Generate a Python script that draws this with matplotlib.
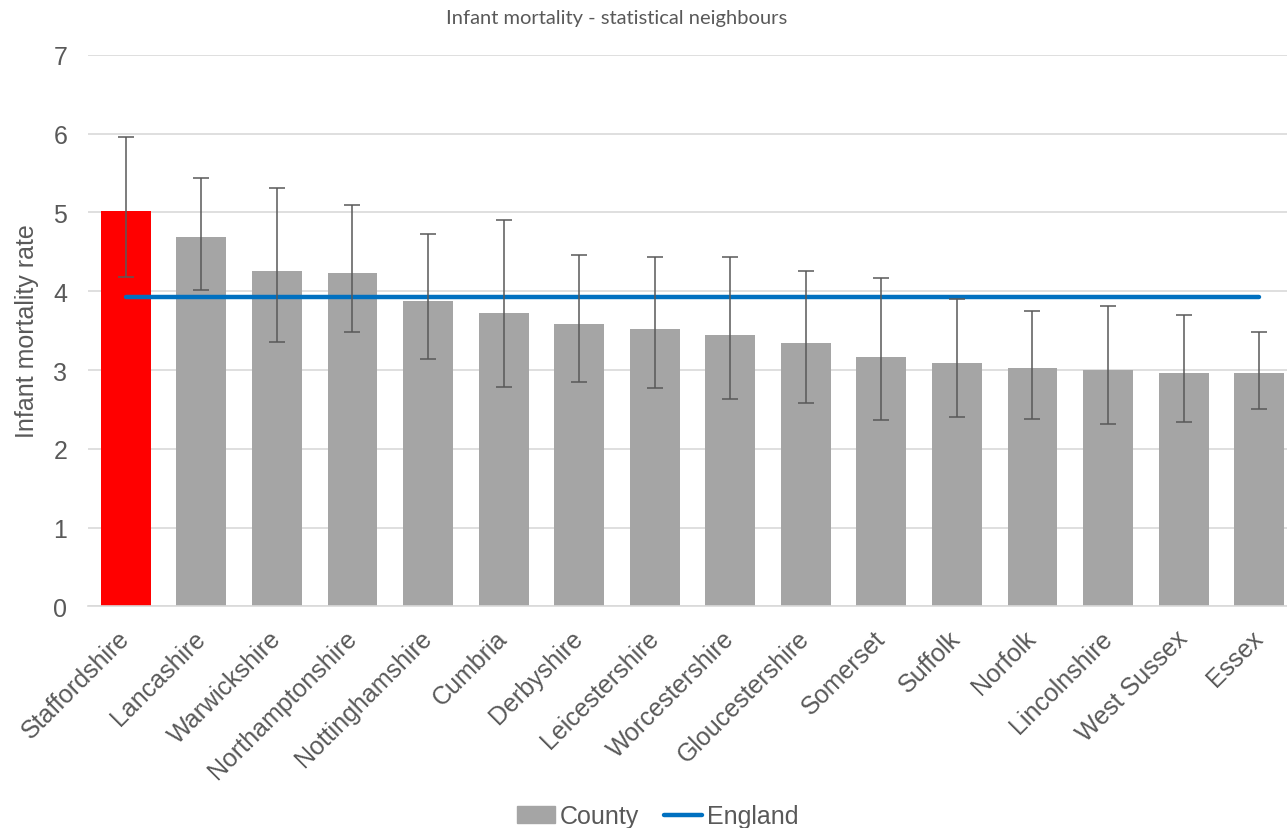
import numpy as np
import matplotlib
matplotlib.use("Agg")
import matplotlib.pyplot as plt
from matplotlib.patches import Patch
from matplotlib.lines import Line2D

# data
counties = ["Staffordshire", "Lancashire", "Warwickshire", "Northamptonshire",
            "Nottinghamshire", "Cumbria", "Derbyshire", "Leicestershire",
            "Worcestershire", "Gloucestershire", "Somerset", "Suffolk",
            "Norfolk", "Lincolnshire", "West Sussex", "Essex"]
rate = [5.02, 4.69, 4.25, 4.23, 3.87, 3.72, 3.59, 3.52, 3.45, 3.34,
        3.17, 3.09, 3.02, 3.00, 2.96, 2.96]
lower = [4.18, 4.02, 3.35, 3.48, 3.14, 2.78, 2.85, 2.77, 2.63, 2.58,
         2.36, 2.41, 2.38, 2.32, 2.34, 2.50]
upper = [5.96, 5.43, 5.31, 5.09, 4.72, 4.90, 4.46, 4.44, 4.43, 4.25,
         4.17, 3.90, 3.75, 3.81, 3.70, 3.48]
england = 3.93

txt = "#595959"
plt.rcParams['font.family'] = ['Liberation Sans', 'DejaVu Sans']

fig = plt.figure(figsize=(12.87, 8.29), dpi=100)
# axes runs a little past the right edge like the original
ax = fig.add_axes([0.0684, 0.2672, 0.9393, 0.6656])

x = np.arange(len(counties))
rate_a = np.array(rate)
yerr = [rate_a - np.array(lower), np.array(upper) - rate_a]
colors = ["#FF0000"] + ["#A5A5A5"] * (len(counties) - 1)

ax.bar(x, rate, width=0.66, color=colors, zorder=2)
ax.errorbar(x, rate, yerr=yerr, fmt="none", ecolor="#595959",
            elinewidth=1.1, capsize=6, capthick=1.1, zorder=4)
ax.plot(x, [england] * len(x), color="#0070C0", lw=3.2,
        solid_capstyle="round", zorder=3)

ax.set_xlim(-0.5, 15.5)
ax.set_ylim(0, 7)
ax.set_yticks(range(0, 8))
ax.yaxis.grid(True, color="#D9D9D9", lw=1.2, zorder=0)
ax.set_axisbelow(True)
for s in ["top", "right", "left"]:
    ax.spines[s].set_visible(False)
ax.spines["bottom"].set_color("#D9D9D9")
ax.spines["bottom"].set_linewidth(1.2)
ax.tick_params(axis="both", length=0, labelsize=18, colors=txt)
ax.tick_params(axis="y", pad=15)
ax.set_xticks(x)
ax.set_xticklabels(counties, rotation=45, ha="right", va="center",
                   rotation_mode="anchor")
ax.tick_params(axis="x", pad=20)
ax.set_ylabel("Infant mortality rate", fontsize=18, color=txt, labelpad=10)

fig.text(0.479, 0.978, "Infant mortality - statistical neighbours",
         ha="center", va="center", fontsize=14.5, color=txt,
         family=["Lato", "DejaVu Sans"])

handles = [Patch(color="#A5A5A5"),
           Line2D([0], [0], color="#0070C0", lw=3.2, solid_capstyle="round")]
leg = fig.legend(handles, ["County", "England"], loc="center",
                 bbox_to_anchor=(0.511, 0.014), ncol=2, frameon=False,
                 fontsize=18, handlelength=1.5, handletextpad=0.2,
                 columnspacing=1.0)
for t in leg.get_texts():
    t.set_color(txt)

fig.savefig("out.png", dpi=100)
